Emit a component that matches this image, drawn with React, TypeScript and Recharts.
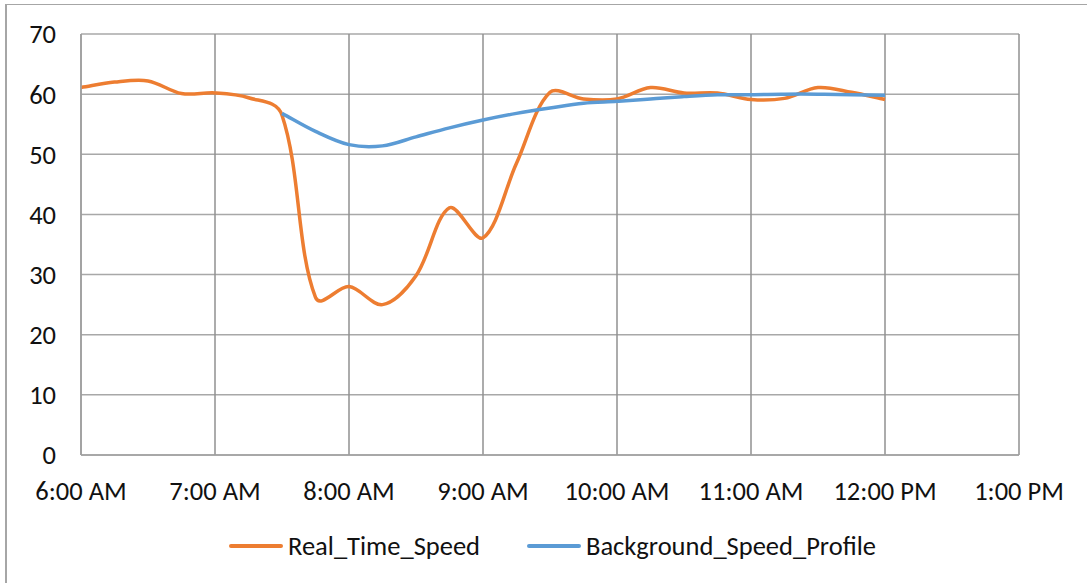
import { LineChart, Line, XAxis, YAxis, CartesianGrid } from "recharts";

// quarter-hour samples, minutes after midnight
const times = [
	360, 375, 390, 405, 420, 435, 450, 465, 480, 495, 510, 525, 540, 555, 570,
	585, 600, 615, 630, 645, 660, 675, 690, 705, 720,
];

const realTimeSpeed = [
	61.1, 62.0, 62.2, 60.1, 60.2, 59.4, 56.5, 26.2, 28.0, 25.0, 29.8, 41.1, 36.1,
	48.5, 60.3, 59.2, 59.2, 61.1, 60.2, 60.2, 59.1, 59.3, 61.1, 60.3, 59.1,
];

const backgroundSpeedProfile = [
	null, null, null, null, null, null, 56.8, 53.8, 51.6, 51.4, 52.9, 54.4, 55.7,
	56.8, 57.7, 58.5, 58.8, 59.2, 59.6, 59.9, 59.9, 60.0, 60.0, 59.9, 59.8,
];

const xTicks = [360, 420, 480, 540, 600, 660, 720, 780];
const yTicks = [0, 10, 20, 30, 40, 50, 60, 70];

const seriesNames = ["Real_Time_Speed", "Background_Speed_Profile"];
const colors = ["#ED7D31", "#5B9BD5"];

const data = times.map((t, i) => ({
	t,
	real: realTimeSpeed[i],
	background: backgroundSpeedProfile[i],
}));

const FONT = "Calibri, Carlito, 'Open Sans', sans-serif";

const fmtTime = (m: number) => {
	const h = Math.floor(m / 60);
	const h12 = h % 12 === 0 ? 12 : h % 12;
	return `${h12}:00 ${h < 12 ? "AM" : "PM"}`;
};

// Excel-like smoothed line: bezier through every point, handle lengths
// split by the neighbouring segment lengths so steep drops don't overshoot
const excelSmooth = (context: any) => {
	let pts: number[][] = [];
	const dist = (a: number[], b: number[]) => Math.hypot(b[0] - a[0], b[1] - a[1]);
	return {
		areaStart() {},
		areaEnd() {},
		lineStart() {
			pts = [];
		},
		point(x: number, y: number) {
			pts.push([+x, +y]);
		},
		lineEnd() {
			const n = pts.length;
			if (!n) return;
			const cin: number[][] = [];
			const cout: number[][] = [];
			for (let i = 0; i < n; i++) {
				const p = pts[i];
				const a = pts[Math.max(i - 1, 0)];
				const b = pts[Math.min(i + 1, n - 1)];
				const tx = b[0] - a[0];
				const ty = b[1] - a[1];
				const d0 = dist(a, p);
				const d1 = dist(p, b);
				const s = d0 + d1 || 1;
				const k0 = Math.max(d0 / s, 0.22) / 3;
				const k1 = Math.max(d1 / s, 0.22) / 3;
				cin.push([p[0] - tx * k0, p[1] - ty * k0]);
				cout.push([p[0] + tx * k1, p[1] + ty * k1]);
			}
			context.moveTo(pts[0][0], pts[0][1]);
			for (let i = 0; i < n - 1; i++) {
				context.bezierCurveTo(
					cout[i][0],
					cout[i][1],
					cin[i + 1][0],
					cin[i + 1][1],
					pts[i + 1][0],
					pts[i + 1][1]
				);
			}
		},
	};
};

const tickStyle = { fontFamily: FONT, fontSize: 26.5, fill: "#111" };

export default function App() {
	return (
		<div
			style={{
				position: "absolute",
				left: 0,
				top: 0,
				width: 1087,
				height: 583,
				overflow: "hidden",
				background: "#fff",
			}}
		>
			<div
				style={{
					position: "absolute",
					left: 5,
					top: 4,
					width: 1200,
					height: 700,
					borderLeft: "2px solid #a6a6a6",
					borderTop: "1px solid #a6a6a6",
				}}
			/>
			<LineChart
				width={1087}
				height={583}
				data={data}
				margin={{ top: 34, right: 68, bottom: 98, left: 0 }}
				style={{ position: "absolute", left: 0, top: 0 }}
			>
				<CartesianGrid horizontal={true} vertical={false} stroke="#a8a8a8" strokeWidth={1.5} />
				<CartesianGrid horizontal={false} vertical={true} stroke="#909090" strokeWidth={1.5} />
				<XAxis
					dataKey="t"
					type="number"
					domain={[360, 780]}
					ticks={xTicks}
					interval={0}
					tickFormatter={fmtTime}
					height={30}
					tickSize={0}
					tickMargin={26}
					axisLine={{ stroke: "#a0a0a0", strokeWidth: 1.5 }}
					tick={tickStyle}
				/>
				<YAxis
					type="number"
					domain={[0, 70]}
					ticks={yTicks}
					interval={0}
					width={81}
					tickSize={0}
					tickMargin={25}
					axisLine={{ stroke: "#a0a0a0", strokeWidth: 1.5 }}
					tick={tickStyle}
				/>
				<Line
					dataKey="real"
					name={seriesNames[0]}
					type={excelSmooth as any}
					stroke={colors[0]}
					strokeWidth={3.5}
					dot={false}
					activeDot={false}
					isAnimationActive={false}
				/>
				<Line
					dataKey="background"
					name={seriesNames[1]}
					type={excelSmooth as any}
					stroke={colors[1]}
					strokeWidth={3.5}
					dot={false}
					activeDot={false}
					isAnimationActive={false}
				/>
			</LineChart>
			{seriesNames.map((name, i) => (
				<div
					key={name}
					style={{
						position: "absolute",
						left: i === 0 ? 229 : 527,
						top: 529,
						height: 34,
						display: "flex",
						alignItems: "center",
						fontFamily: FONT,
						fontSize: 26.5,
						color: "#111",
						whiteSpace: "nowrap",
					}}
				>
					<span
						style={{
							display: "inline-block",
							width: 54,
							height: 3.5,
							borderRadius: 2,
							background: colors[i],
							marginRight: 5,
						}}
					/>
					{name}
				</div>
			))}
		</div>
	);
}
